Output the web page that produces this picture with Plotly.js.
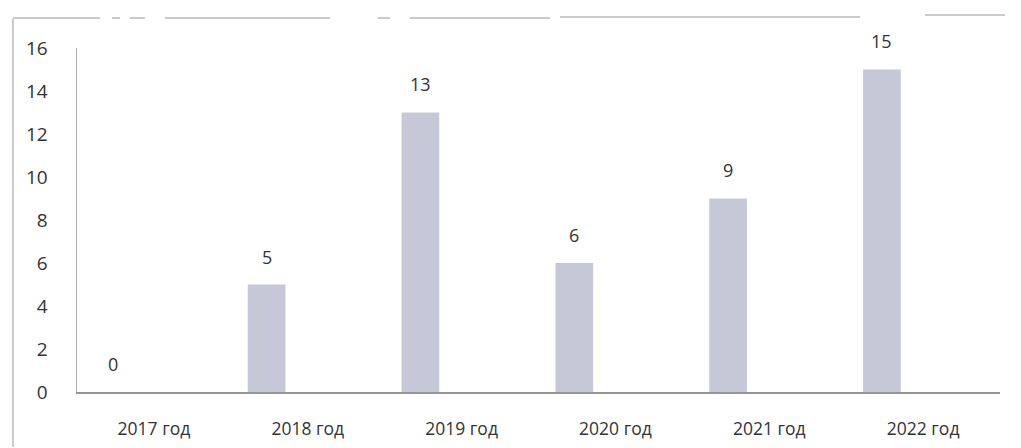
<!DOCTYPE html>
<html>
<head>
<meta charset="utf-8">
<script src="https://cdn.plot.ly/plotly-3.0.1.min.js"></script>
<style>html,body{margin:0;padding:0;background:#fff;}#chart{width:1021px;height:448px;}</style>
</head>
<body>
<div id="chart"></div>
<script>
const categories = ["2017 год", "2018 год", "2019 год", "2020 год", "2021 год", "2022 год"];
const values = [0, 5, 13, 6, 9, 15];
const yTicks = [0, 2, 4, 6, 8, 10, 12, 14, 16];

const W = 1021, H = 448;
const L = 77, R = 21, T = 48, B = 56;
// paper coordinates span the whole figure (zero margins)
function px(x) { return x / W; }
function py(y) { return (H - y) / H; }

const barWidth = 0.245, barOffset = -0.39;
const FONT = 'Open Sans, Liberation Sans, sans-serif';

const trace = {
  type: 'bar',
  x: categories.map((c, i) => i),
  y: values,
  width: barWidth,
  offset: barOffset,
  marker: {color: '#c6c8d7', line: {width: 0}},
  hoverinfo: 'none'
};

const annotations = values.map((v, i) => ({
  x: i + barOffset + barWidth / 2,
  y: v,
  xref: 'x', yref: 'y',
  text: String(v),
  showarrow: false,
  yanchor: 'bottom',
  xanchor: 'center',
  yshift: 14,
  font: {family: FONT, size: 18, color: '#333'}
}));

const frameColor = '#b8b8b8';
const seg = (x0, x1, y) => ({type: 'line', xref: 'paper', yref: 'paper', layer: 'above', x0: px(x0), x1: px(x1), y0: py(y), y1: py(y), line: {color: frameColor, width: 1.5}});

const layout = {
  width: W, height: H,
  margin: {l: 0, r: 0, t: 0, b: 0, pad: 0},
  paper_bgcolor: '#ffffff',
  plot_bgcolor: '#ffffff',
  showlegend: false,
  font: {family: FONT, size: 17, color: '#333'},
  xaxis: {
    domain: [px(L), px(W - R)],
    automargin: false,
    tickmode: 'array',
    tickvals: categories.map((c, i) => i),
    ticktext: categories,
    showgrid: false,
    zeroline: false,
    showline: true,
    linecolor: '#959595',
    linewidth: 1.5,
    ticks: '',
    tickfont: {family: FONT, size: 17.5, color: '#333'},
    ticklabelstandoff: 20,
    range: [-0.5, 5.5]
  },
  yaxis: {
    domain: [py(H - B), py(T)],
    automargin: false,
    range: [0, 16],
    tickvals: yTicks,
    ticktext: yTicks.map(String),
    showgrid: false,
    zeroline: false,
    showline: true,
    linecolor: '#a8a8a8',
    linewidth: 1.5,
    ticks: '',
    tickfont: {family: FONT, size: 19, color: '#333'},
    ticklabelstandoff: 24
  },
  annotations: annotations,
  shapes: [
    {type: 'line', xref: 'paper', yref: 'paper', layer: 'above',
     x0: px(13), x1: px(13), y0: py(447), y1: py(19),
     line: {color: frameColor, width: 1.5}},
    seg(13, 100, 18),
    seg(112, 120, 18),
    seg(130, 145, 18),
    seg(165, 330, 18),
    seg(378, 390, 18),
    seg(410, 550, 18),
    seg(560, 860, 17),
    seg(925, 1005, 15)
  ]
};

Plotly.newPlot('chart', [trace], layout, {displayModeBar: false, staticPlot: true});
</script>
</body>
</html>
